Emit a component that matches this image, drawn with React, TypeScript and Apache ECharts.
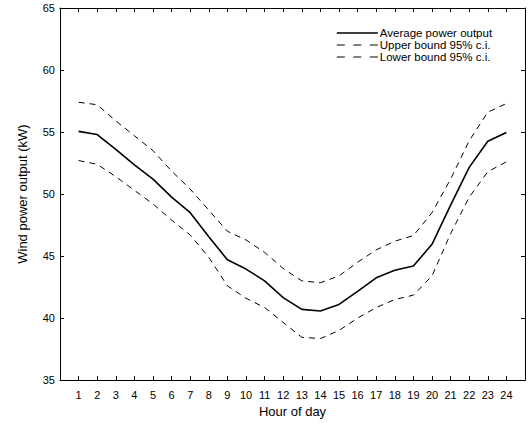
import React, { useEffect, useRef } from "react";
import * as echarts from "echarts";

const hours = [1, 2, 3, 4, 5, 6, 7, 8, 9, 10, 11, 12, 13, 14, 15, 16, 17, 18, 19, 20, 21, 22, 23, 24];
const averagePower = [55.05, 54.8, 53.6, 52.35, 51.2, 49.75, 48.5, 46.55, 44.7, 43.95, 43.0, 41.65, 40.7, 40.57, 41.1, 42.15, 43.25, 43.85, 44.2, 45.95, 49.1, 52.15, 54.25, 54.97];
const upperBound = [57.4, 57.2, 55.9, 54.7, 53.5, 51.85, 50.4, 48.7, 47.0, 46.3, 45.3, 44.0, 43.0, 42.85, 43.4, 44.5, 45.5, 46.2, 46.65, 48.5, 51.2, 54.3, 56.6, 57.3];
const lowerBound = [52.7, 52.4, 51.4, 50.3, 49.2, 47.9, 46.7, 44.9, 42.6, 41.6, 40.85, 39.65, 38.45, 38.35, 39.0, 40.0, 40.85, 41.5, 41.85, 43.4, 46.8, 49.75, 51.8, 52.6];
const seriesNames = ["Average power output", "Upper bound 95% c.i.", "Lower bound 95% c.i."];

const FONT = "'Liberation Sans', Arial, Helvetica, sans-serif";

export default function App() {
  const ref = useRef<HTMLDivElement>(null);
  useEffect(() => {
    if (!ref.current) return;
    const chart = echarts.init(ref.current, undefined, { renderer: "svg" });
    const pair = (arr: number[]) => hours.map((h, i) => [h, arr[i]]);
    const axisLine = { show: true, onZero: false, lineStyle: { color: "#000", width: 1 } };
    const axisTick = { show: true, inside: true, length: 4, lineStyle: { color: "#000", width: 1 } };
    const legendDash = { color: "#000", width: 1, type: [8, 8.5] };
    chart.setOption({
      animation: false,
      backgroundColor: "#fff",
      textStyle: { fontFamily: FONT },
      grid: { left: 60, right: 1, top: 8, bottom: 40, containLabel: false },
      legend: {
        data: [
          { name: seriesNames[0], lineStyle: { color: "#000", width: 1.6, type: "solid" } },
          { name: seriesNames[1], lineStyle: legendDash },
          { name: seriesNames[2], lineStyle: legendDash },
        ],
        orient: "vertical",
        left: 336,
        top: 27,
        padding: 0,
        itemGap: 0,
        itemWidth: 41,
        itemHeight: 10,
        align: "left",
        itemStyle: { opacity: 0 },
        textStyle: { fontFamily: FONT, fontSize: 11.5, color: "#000", lineHeight: 10.5, padding: [0, 0, 0, -3] },
      },
      xAxis: [
        {
          type: "value",
          min: 0,
          max: 25,
          interval: 1,
          position: "bottom",
          axisLine,
          axisTick,
          splitLine: { show: false },
          axisLabel: {
            color: "#000",
            fontSize: 11,
            fontFamily: FONT,
            margin: 9,
            formatter: (v: number) => (v >= 1 && v <= 24 ? String(v) : ""),
          },
          name: "Hour of day",
          nameLocation: "middle",
          nameGap: 23,
          nameTextStyle: { color: "#000", fontSize: 13, fontFamily: FONT },
        },
        {
          type: "value",
          min: 0,
          max: 25,
          interval: 1,
          position: "top",
          axisLine,
          axisTick,
          splitLine: { show: false },
          axisLabel: { show: false },
        },
      ],
      yAxis: [
        {
          type: "value",
          min: 35,
          max: 65,
          interval: 5,
          position: "left",
          axisLine,
          axisTick,
          splitLine: { show: false },
          axisLabel: { color: "#000", fontSize: 11, fontFamily: FONT, margin: 5 },
          name: "Wind power output (kW)",
          nameLocation: "middle",
          nameGap: 31,
          nameTextStyle: { color: "#000", fontSize: 13, fontFamily: FONT },
        },
        {
          type: "value",
          min: 35,
          max: 65,
          interval: 5,
          position: "right",
          axisLine,
          axisTick,
          splitLine: { show: false },
          axisLabel: { show: false },
        },
      ],
      series: [
        {
          name: seriesNames[0],
          type: "line",
          data: pair(averagePower),
          symbol: "none",
          lineStyle: { color: "#000", width: 1.6, type: "solid" },
          itemStyle: { color: "#000" },
        },
        {
          name: seriesNames[1],
          type: "line",
          data: pair(upperBound),
          symbol: "none",
          lineStyle: { color: "#000", width: 1, type: [6, 5] },
          itemStyle: { color: "#000" },
        },
        {
          name: seriesNames[2],
          type: "line",
          data: pair(lowerBound),
          symbol: "none",
          lineStyle: { color: "#000", width: 1, type: [6, 5] },
          itemStyle: { color: "#000" },
        },
      ],
    });
    return () => chart.dispose();
  }, []);
  return (
    <div
      ref={ref}
      style={{ position: "fixed", left: 0, top: 0, width: 528, height: 423, background: "#fff" }}
    />
  );
}
